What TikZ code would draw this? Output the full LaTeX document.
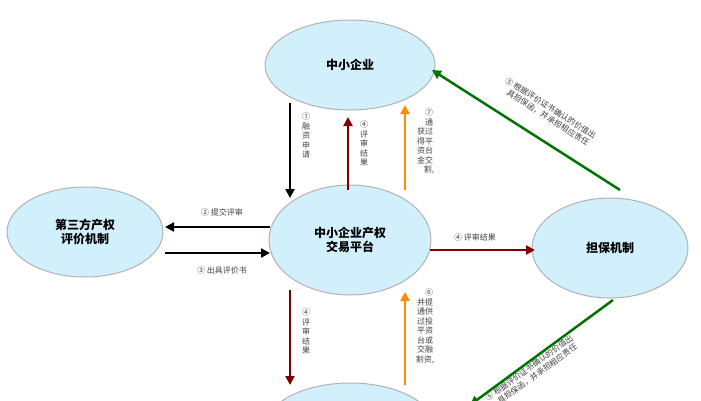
\documentclass[tikz,border=0pt]{standalone}
\usepackage{fontspec}
\newfontfamily\cjk{Noto Sans CJK SC}
\usetikzlibrary{arrows.meta,shapes.geometric}
\tikzset{
  party/.style={ellipse, draw=gray!60, line width=1pt, fill=cyan!18, font=\cjk\bfseries\large, align=center, inner sep=0pt},
  flow/.style={line width=2.5pt, -{Triangle[length=9pt,width=9pt]}},
  note/.style={font=\cjk\footnotesize, text=black!75, align=center, inner sep=1pt},
  vnote/.style={note}
}
\begin{document}
\begin{tikzpicture}[x=1pt,y=-1pt]
  \useasboundingbox (0,0) rectangle (701,400);
  \begin{scope}
  \clip (0,0) rectangle (701,400);
  % parties
  \node[party, minimum width=170, minimum height=90] (sme) at (350,65) {中小企业};
  \node[party, minimum width=162, minimum height=110] (plat) at (350,240) {中小企业产权\\交易平台};
  \node[party, minimum width=156, minimum height=90] (eval) at (85,232) {第三方产权\\评价机制};
  \node[party, minimum width=156, minimum height=100] (guar) at (610,248) {担保机制};
  \node[party, minimum width=170, minimum height=90] (inv) at (350,428) {};

  % vertical flows, top
  \draw[flow, black] (290,103) -- (290,198);
  \draw[flow, red!50!black] (348,190) -- (348,117);
  \draw[flow, orange!90!yellow] (405,190) -- (405,105);
  \node[vnote, anchor=north] (n1) at (306,112) {①\\融\\资\\申\\请};
  \node[vnote, anchor=north] (n4a) at (364,120) {④\\评\\审\\结\\果};
  \node[vnote, anchor=north] (n7) at (425,108) {\phantom{获}⑦\\\phantom{获}通\\获过\\得平\\资台\\金交\\\phantom{金}割,};

  % horizontal flows
  \draw[flow, black] (270,227) -- (165,227);
  \node[note] (n2) at (222,212) {② 提交评审};
  \draw[flow, black] (165,253) -- (270,253);
  \node[note] (n3) at (222,270) {③ 出具评价书};
  \draw[flow, red!50!black] (430,250) -- (535,250);
  \node[note] (n4b) at (475,237) {④ 评审结果};

  % vertical flows, bottom
  \draw[flow, red!50!black] (290,290) -- (290,385);
  \draw[flow, orange!90!yellow] (405,385) -- (405,292);
  \node[vnote, anchor=north] (n4c) at (306,308) {④\\评\\审\\结\\果};
  \node[vnote, anchor=north] (n6) at (425,288) {\phantom{并}⑥\\并提\\通供\\过投\\平资\\台或\\交融\\割资,};

  % guarantee flows
  \draw[flow, green!45!black] (620,190) -- (432,70);
  \node[note, rotate=-32.5, align=left] (n5) at (548,112) {⑤ 根据评价证书确认的价值出\\\quad 具担保函，并承担相应责任};
  \draw[flow, green!45!black] (613,300) -- (470,405);
  \node[note, rotate=36, align=left] (n5b) at (532,372) {⑤ 根据评价证书确认的价值出\\\quad 具担保函，并承担相应责任};
  \end{scope}
\end{tikzpicture}
\end{document}
